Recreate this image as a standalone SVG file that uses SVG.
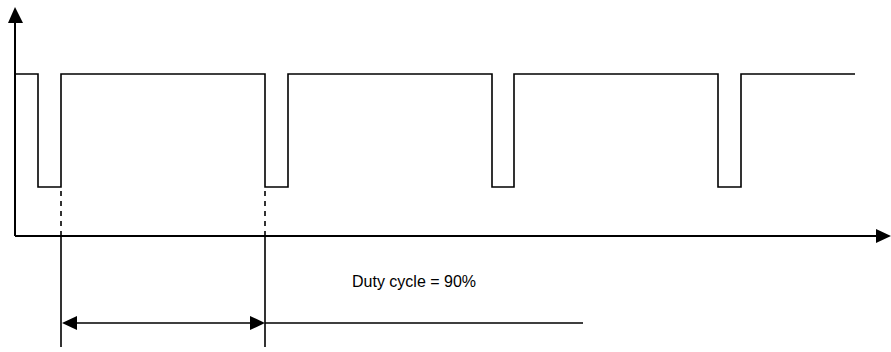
<svg xmlns="http://www.w3.org/2000/svg" width="891" height="352" viewBox="0 0 891 352">
<style>
.axis{stroke:#000;stroke-width:2;fill:none}
.wave{stroke:#000;stroke-width:1.6;fill:none}
.dash{stroke:#000;stroke-width:1.6;stroke-dasharray:5,5;fill:none}
.ext{stroke:#000;stroke-width:1.6;fill:none}
.head{fill:#000}
text{font-family:"Liberation Sans",Arial,sans-serif;font-size:16px;fill:#000}
</style>
<rect width="891" height="352" fill="#fff"/>
<g id="axes">
<path class="axis" d="M15,236 V22 M15,236 H877"/>
<polygon class="head" points="15,7 8,23 23,23"/>
<polygon class="head" points="891,236 876,229 876,243"/>
</g>
<g id="waveform">
<path class="wave" d="M15,74 H38 V187 H61 V74 H265 V187 H288 V74 H492 V187 H514 V74 H718 V187 H741 V74 H855"/>
</g>
<g id="connectors">
<path class="dash" d="M61,191 V236 M265,191 V236"/>
<path class="ext" d="M61,236 V347 M265,236 V347"/>
<path class="ext" d="M76,323 H250 M265,323 H583"/>
<polygon class="head" points="62,323 77,316 77,330"/>
<polygon class="head" points="265,323 250,316 250,330"/>
</g>
<g id="label">
<text x="352" y="287">Duty cycle = 90%</text>
</g>
</svg>
